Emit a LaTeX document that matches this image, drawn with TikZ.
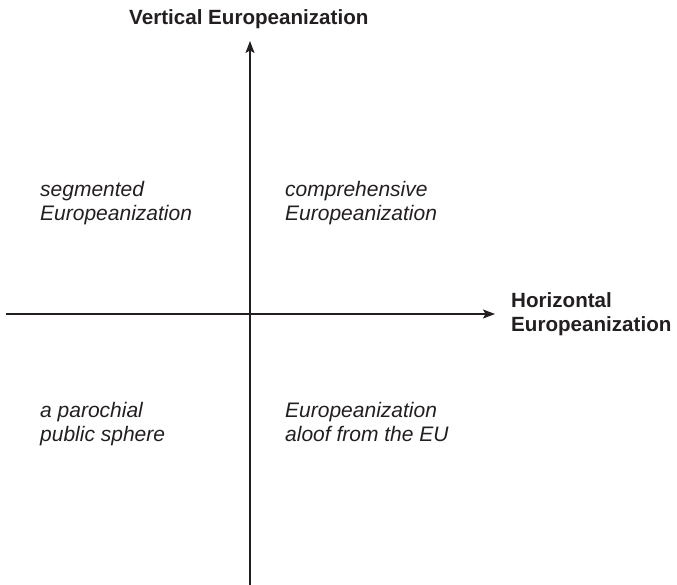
\documentclass[tikz,border=0pt]{standalone}
\usepackage{fontspec}
\setmainfont{Liberation Sans}
\usetikzlibrary{arrows.meta}

\definecolor{ink}{HTML}{231F20}
\tikzset{
 axis/.style = {draw = ink, line width = 1.2pt, -{Stealth[length = 12pt, width = 9pt, inset = 2.5pt]}},
 axislabel/.style = {anchor = base west, inner sep = 0pt, align = left, text = ink,
 font = \fontsize{20.6}{24.5}\selectfont\bfseries},
 quadrant/.style = {anchor = base west, inner sep = 0pt, align = left, text = ink,
 font = \fontsize{21}{24}\selectfont\itshape}
}

\begin{document}
\begin{tikzpicture}[x = 1pt, y = -1pt]
 \useasboundingbox (0,0) rectangle (677,585);
 \coordinate (W) at (6,314);
 \coordinate (E) at (495,314);
 \coordinate (S) at (250,586);
 \coordinate (N) at (250,41);
 \draw[axis] (W) -- (E);
 \draw[axis] (S) -- (N);
 % axis labels
 \node[axislabel] (vert) at (129,25) {Vertical Europeanization};
 \node[axislabel] (horiz) at (511,331.5) {Horizontal\\Europeanization};
 % quadrants (base = last line)
 \node[quadrant] (segm) at (40,221) {segmented\\Europeanization};
 \node[quadrant] (compr) at (285,221) {comprehensive\\Europeanization};
 \node[quadrant] (paroch) at (40,441) {a parochial\\public sphere};
 \node[quadrant] (aloof) at (285,441) {Europeanization\\aloof from the EU};
\end{tikzpicture}
\end{document}
